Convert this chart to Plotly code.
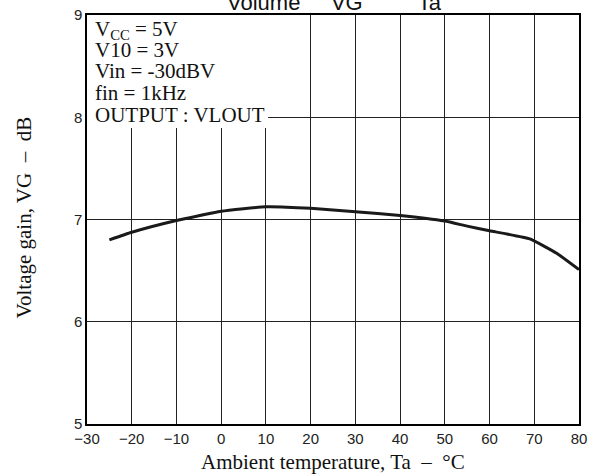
import plotly.graph_objects as go

# Data
temp_c = [-25, -20, -10, 0, 10, 20, 30, 40, 50, 55, 60, 69, 75, 80]
gain_db = [6.80, 6.875, 6.99, 7.08, 7.125, 7.11, 7.075, 7.04, 6.985, 6.935, 6.89, 6.81, 6.67, 6.51]

x_ticks = [-30, -20, -10, 0, 10, 20, 30, 40, 50, 60, 70, 80]
y_ticks = [5, 6, 7, 8, 9]

cond_lines = ["V<sub>CC</sub> = 5V", "V10 = 3V", "Vin = -30dBV", "fin = 1kHz", "OUTPUT : VLOUT"]
cond_y = [8.85, 8.655, 8.45, 8.235, 8.025]

SERIF = "Liberation Serif, Times New Roman, serif"
SANS = "Liberation Sans, Arial, sans-serif"

fig = go.Figure()
fig.add_trace(go.Scatter(
    x=temp_c, y=gain_db, mode="lines",
    line=dict(color="#1a1a1a", width=3, shape="spline", smoothing=0.4),
    showlegend=False, hoverinfo="skip",
))

axis_common = dict(
    showgrid=True, gridcolor="#222222", gridwidth=1,
    showline=True, linecolor="black", linewidth=1.5, mirror=True,
    ticks="", zeroline=False, automargin=False,
    tickfont=dict(family=SANS, size=15, color="#222222"),
)

fig.update_xaxes(range=[-30, 80], tickvals=x_ticks, **axis_common)
fig.update_yaxes(range=[5, 9], tickvals=y_ticks, **axis_common)

# White panel behind the conditions text (hides grid lines there)
fig.add_shape(type="rect", x0=-30, x1=10.5, y0=7.895, y1=9,
              fillcolor="white", line=dict(width=0), layer="between")

for txt, yv in zip(cond_lines, cond_y):
    fig.add_annotation(
        x=0.012, xref="paper", y=yv, yref="y", text=txt, showarrow=False,
        xanchor="left", yanchor="middle",
        font=dict(family=SERIF, size=21, color="#111111"),
    )

# Title (partly clipped at top, as in reference)
fig.add_annotation(
    x=0.503, xref="paper", y=0.995, yref="paper",
    text="Volume" + "\u00a0" * 5 + "VG" + "\u00a0" * 9 + "Ta", showarrow=False,
    xanchor="center", yanchor="bottom",
    font=dict(family=SANS, size=22, color="#111111"),
)

# Axis titles
fig.add_annotation(
    x=0.5, xref="paper", y=-0.093, yref="paper",
    text="Ambient temperature, Ta \u00a0–\u00a0 °C", showarrow=False,
    xanchor="center", yanchor="middle",
    font=dict(family=SERIF, size=21, color="#111111"),
)
fig.add_annotation(
    x=-0.128, xref="paper", y=0.505, yref="paper",
    text="Voltage gain, VG \u00a0–\u00a0 dB", showarrow=False, textangle=-90,
    xanchor="center", yanchor="middle",
    font=dict(family=SERIF, size=21, color="#111111"),
)

fig.update_layout(
    width=592, height=475,
    margin=dict(l=87, r=13, t=15, b=51, autoexpand=False),
    paper_bgcolor="white", plot_bgcolor="white",
    showlegend=False,
)

fig.write_html("out.html")
